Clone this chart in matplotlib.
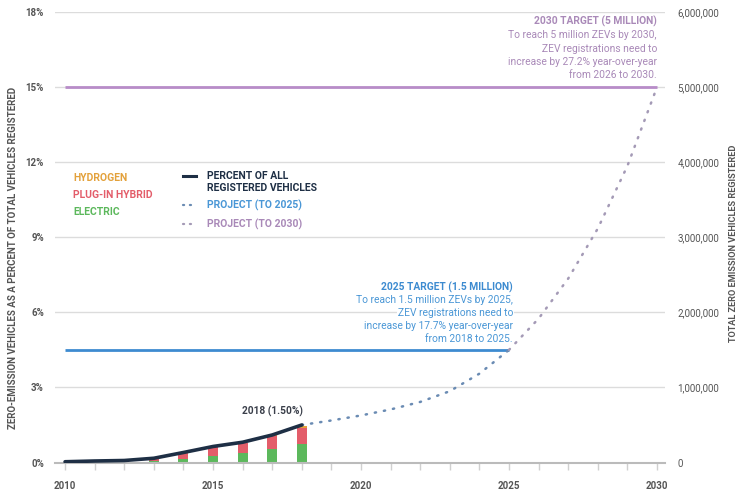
import matplotlib
matplotlib.use("Agg")
import matplotlib.pyplot as plt

# ---- data ----
years = [2010, 2011, 2012, 2013, 2014, 2015, 2016, 2017, 2018]
electric = [0.02, 0.03, 0.03, 0.05, 0.12, 0.26, 0.36, 0.52, 0.72]
plugin_hybrid = [0.00, 0.01, 0.02, 0.07, 0.25, 0.34, 0.40, 0.53, 0.67]
hydrogen = [0.01, 0.02, 0.04, 0.05, 0.01, 0.01, 0.02, 0.03, 0.07]
percent_all = [0.03, 0.06, 0.08, 0.17, 0.40, 0.64, 0.81, 1.10, 1.50]

proj2025_years = [2018, 2019, 2020, 2021, 2022, 2023, 2024, 2025]
proj2025_pct = [1.50, 1.68, 1.88, 2.12, 2.42, 2.85, 3.55, 4.50]
proj2030_years = [2025, 2026, 2027, 2028, 2029, 2030]
proj2030_pct = [4.50, 5.75, 7.35, 9.35, 11.85, 15.0]

target2025_pct = 4.5
target2030_pct = 15.0

left_ticks = [0, 3, 6, 9, 12, 15, 18]
left_labels = ["0%", "3%", "6%", "9%", "12%", "15%", "18%"]
right_ticks = [0, 1e6, 2e6, 3e6, 4e6, 5e6, 6e6]
right_labels = ["0", "1,000,000", "2,000,000", "3,000,000", "4,000,000", "5,000,000", "6,000,000"]
x_major = [2010, 2015, 2020, 2025, 2030]

# ---- colours ----
C_GREEN = "#5cb85c"
C_RED = "#e35d6a"
C_ORANGE = "#e3a13b"
C_NAVY = "#1e2f45"
C_BLUE = "#3d8bd0"
C_BLUE_TXT = "#4a97d6"
C_PURPLE = "#b88cc8"
C_PURPLE_TXT = "#a989b8"
C_DOT25 = "#6a8bb3"
C_DOT30 = "#a49ab6"
C_GRID = "#dcdcdc"
C_TXT = "#555555"

plt.rcParams['font.family'] = ['Roboto', 'DejaVu Sans']

W, H = 738, 494
fig = plt.figure(figsize=(W / 100, H / 100), dpi=100)
L, R, B, T = 55, 665, 462.5, 12
ax = fig.add_axes([L / W, 1 - B / H, (R - L) / W, (B - T) / H])

def fx(px):
    return px / W

def fy(py):
    return 1 - py / H

DOTS = (0, (0.5, 3.2))

# gridlines
ax.set_ylim(0, 18)
ax.set_xlim(2009.66, 2030.27)
for t in left_ticks[1:]:
    ax.axhline(t, color=C_GRID, lw=1.0, zorder=0)

# bars
bw = 0.34
ax.bar(years, electric, width=bw, color=C_GREEN, zorder=2)
bot2 = [e for e in electric]
ax.bar(years, plugin_hybrid, width=bw, bottom=bot2, color=C_RED, zorder=2)
bot3 = [e + p for e, p in zip(electric, plugin_hybrid)]
ax.bar(years, hydrogen, width=bw, bottom=bot3, color=C_ORANGE, zorder=2)

# target lines
ax.plot([2010, 2025], [target2025_pct, target2025_pct], color=C_BLUE, lw=2, zorder=3,
        solid_capstyle='butt')
ax.plot([2010, 2030], [target2030_pct, target2030_pct], color=C_PURPLE, lw=2, zorder=3,
        solid_capstyle='butt')

# projections
ax.plot(proj2025_years, proj2025_pct, color=C_DOT25, lw=1.8, ls=DOTS,
        dash_capstyle='round', zorder=3)
ax.plot(proj2030_years, proj2030_pct, color=C_DOT30, lw=1.8, ls=DOTS,
        dash_capstyle='round', zorder=3)

# percent line
ax.plot(years, percent_all, color=C_NAVY, lw=2.6, zorder=4, solid_capstyle='round')

# axes styling
for s in ["top", "right", "left"]:
    ax.spines[s].set_visible(False)
ax.spines["bottom"].set_color("#bbbbbb")
ax.spines["bottom"].set_linewidth(1.5)
ax.set_yticks(left_ticks)
ax.set_yticklabels(left_labels)
ax.tick_params(axis='y', length=0, pad=8, labelsize=7, labelcolor=C_TXT)
ax.set_xticks(x_major)
ax.set_xticks(list(range(2010, 2031)), minor=True)
ax.tick_params(axis='x', which='both', length=5, color="#d0d0d0", width=1,
               labelsize=7, labelcolor=C_TXT, pad=8)
for lbl in ax.get_yticklabels() + ax.get_xticklabels():
    lbl.set_fontweight('bold')

ax2 = ax.twinx()
ax2.set_ylim(0, 6e6)
ax2.set_yticks(right_ticks)
ax2.set_yticklabels(right_labels)
ax2.tick_params(axis='y', length=0, pad=9, labelsize=7, labelcolor=C_TXT)
for s in ["top", "right", "left", "bottom"]:
    ax2.spines[s].set_visible(False)

# axis titles
fig.text(fx(13), fy(258), "ZERO-EMISSION VEHICLES AS A PERCENT OF TOTAL VEHICLES REGISTERED",
         rotation=90, ha='center', va='center', fontsize=7, color=C_TXT, fontweight='bold')
fig.text(fx(733), fy(243), "TOTAL ZERO EMISSION VEHICLES REGISTERED",
         rotation=90, ha='center', va='center', fontsize=6.6, color=C_TXT, fontweight='bold')

# legend (text based)
fs = 7.5
fig.text(fx(73), fy(178), "HYDROGEN", color=C_ORANGE, fontsize=fs, fontweight='bold', va='center')
fig.text(fx(73), fy(195), "PLUG-IN HYBRID", color=C_RED, fontsize=fs, fontweight='bold', va='center')
fig.text(fx(73), fy(212), "ELECTRIC", color=C_GREEN, fontsize=fs, fontweight='bold', va='center')

fig.add_artist(plt.Line2D([fx(183), fx(196)], [fy(176), fy(176)], color=C_NAVY, lw=2.2))
fig.text(fx(207), fy(176), "PERCENT OF ALL", color=C_NAVY, fontsize=fs, fontweight='bold', va='center')
fig.text(fx(207), fy(188), "REGISTERED VEHICLES", color=C_NAVY, fontsize=fs, fontweight='bold', va='center')
fig.add_artist(plt.Line2D([fx(183), fx(196)], [fy(205), fy(205)], color=C_DOT25, lw=1.6,
                          ls=(0, (0.5, 2.6)), dash_capstyle='round'))
fig.text(fx(207), fy(205), "PROJECT (TO 2025)", color=C_BLUE_TXT, fontsize=fs, fontweight='bold', va='center')
fig.add_artist(plt.Line2D([fx(183), fx(196)], [fy(224), fy(224)], color=C_DOT30, lw=1.6,
                          ls=(0, (0.5, 2.6)), dash_capstyle='round'))
fig.text(fx(207), fy(224), "PROJECT (TO 2030)", color=C_PURPLE_TXT, fontsize=fs, fontweight='bold', va='center')

# annotations
fig.text(fx(272), fy(411), "2018 (1.50%)", color="#3a3f4a", fontsize=7.3, fontweight='bold',
         ha='center', va='center')

fig.text(fx(513), fy(287), "2025 TARGET (1.5 MILLION)", color=C_BLUE, fontsize=7.4,
         fontweight='bold', ha='right', va='center')
lines25 = ["To reach 1.5 million ZEVs by 2025,", "ZEV registrations need to",
           "increase by 17.7% year-over-year", "from 2018 to 2025."]
for i, s in enumerate(lines25):
    fig.text(fx(513), fy(300 + 13 * i), s, color=C_BLUE_TXT, fontsize=7.35, ha='right', va='center',
             bbox=dict(facecolor='white', edgecolor='none', pad=0.5))

fig.text(fx(657), fy(21), "2030 TARGET (5 MILLION)", color=C_PURPLE_TXT, fontsize=7.4,
         fontweight='bold', ha='right', va='center')
lines30 = ["To reach 5 million ZEVs by 2030,", "ZEV registrations need to",
           "increase by 27.2% year-over-year", "from 2026 to 2030."]
for i, s in enumerate(lines30):
    fig.text(fx(657), fy(35 + 13.5 * i), s, color=C_PURPLE_TXT, fontsize=7.35, ha='right', va='center',
             bbox=dict(facecolor='white', edgecolor='none', pad=0.5))

fig.savefig("out.png", dpi=100)
